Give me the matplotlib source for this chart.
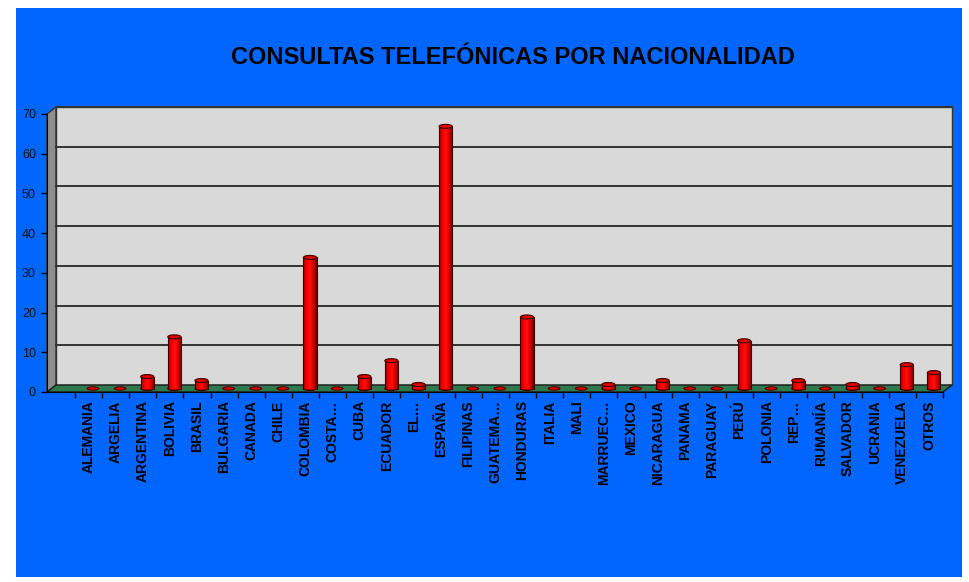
import numpy as np
import matplotlib
matplotlib.use("Agg")
import matplotlib.pyplot as plt
from matplotlib.patches import Polygon, Rectangle, Ellipse
from matplotlib.colors import LinearSegmentedColormap

plt.rcParams['font.family'] = ['Liberation Sans', 'DejaVu Sans']

paises = ['ALEMANIA', 'ARGELIA', 'ARGENTINA', 'BOLIVIA', 'BRASIL', 'BULGARIA',
          'CANADA', 'CHILE', 'COLOMBIA', 'COSTA…', 'CUBA', 'ECUADOR', 'EL…',
          'ESPAÑA', 'FILIPINAS', 'GUATEMA…', 'HONDURAS', 'ITALIA', 'MALI',
          'MARRUEC…', 'MEXICO', 'NICARAGUA', 'PANAMA', 'PARAGUAY', 'PERÚ',
          'POLONIA', 'REP…', 'RUMANÍA', 'SALVADOR', 'UCRANIA', 'VENEZUELA', 'OTROS']
consultas = [0, 0, 3, 13, 2, 0, 0, 0, 33, 0, 3, 7, 1, 66, 0, 0, 18, 0, 0, 1,
             0, 2, 0, 0, 12, 0, 2, 0, 1, 0, 6, 4]
yticks = [0, 10, 20, 30, 40, 50, 60, 70]

W, H = 969, 582
fig = plt.figure(figsize=(W / 100, H / 100), dpi=100, facecolor='white')
fig.patches.append(Rectangle((16 / W, 5 / H), 946 / W, 569 / H,
                             transform=fig.transFigure, facecolor='#0066FF',
                             edgecolor='none', zorder=-5))

x0, x1 = -1.53, 31.5
ax = fig.add_axes([47 / W, 190 / H, 896 / W, 278 / H])
ax.set_zorder(1)
ax.set_facecolor('none')
ax.set_xlim(x0, x1)
ax.set_ylim(0, 70)

# depth offset of the back wall (data units)
dx, dy = 0.33, 1.76

# walls and floor
ax.add_patch(Polygon([(x0 + dx, dy), (x1 + dx, dy), (x1 + dx, 70 + dy), (x0 + dx, 70 + dy)],
                     facecolor='#D9D9D9', edgecolor='#333333', lw=1, clip_on=False, zorder=1))
ax.add_patch(Polygon([(x0, 0), (x0 + dx, dy), (x0 + dx, 70 + dy), (x0, 70)],
                     facecolor='#8E8E8E', edgecolor='#333333', lw=1, clip_on=False, zorder=1))
for t in yticks[1:]:
    ax.plot([x0 + dx, x1 + dx], [t + dy, t + dy], color='#333333', lw=1.4,
            clip_on=False, zorder=1.5)
ax.add_patch(Polygon([(x0, 0), (x1, 0), (x1 + dx, dy), (x0 + dx, dy)],
                     facecolor='#2F7A4C', edgecolor='#1A1A1A', lw=1, clip_on=False, zorder=2))

# cylinders
cmap = LinearSegmentedColormap.from_list('cil', ['#7A0000', '#E00000', '#FF0000', '#FF1010',
                                                 '#E80000', '#B00000', '#5A0000'])
grad = np.linspace(0, 1, 64).reshape(1, -1)
w = 0.48
eh = 1.0
for i, v in enumerate(consultas):
    xc = i + dx / 2
    base = dy / 2
    if v > 0:
        ax.add_patch(Ellipse((xc, base), w, eh, facecolor='#B00000', edgecolor='#400000',
                             lw=0.8, zorder=3, clip_on=False))
        ax.imshow(grad, cmap=cmap, aspect='auto', extent=[xc - w / 2, xc + w / 2, base, base + v],
                  zorder=3.1, interpolation='bilinear', clip_on=False)
        ax.plot([xc - w / 2, xc - w / 2], [base, base + v], color='#400000', lw=0.8, zorder=3.2)
        ax.plot([xc + w / 2, xc + w / 2], [base, base + v], color='#400000', lw=0.8, zorder=3.2)
        ax.add_patch(Ellipse((xc, base + v), w, eh, facecolor='#E00000', edgecolor='#500000',
                             lw=0.9, zorder=3.3, clip_on=False))
    else:
        ax.add_patch(Ellipse((xc, base), w * 0.9, eh * 0.8, facecolor='#E00000',
                             edgecolor='#500000', lw=0.8, zorder=3.3, clip_on=False))

ax.set_xlim(x0, x1)
ax.set_ylim(0, 70)

# axes
for s in ['top', 'right']:
    ax.spines[s].set_visible(False)
ax.spines['left'].set_color('black')
ax.spines['bottom'].set_color('black')
ax.spines['left'].set_zorder(4)
ax.spines['bottom'].set_zorder(4)

ax.set_yticks(yticks)
ax.set_yticklabels([str(t) for t in yticks], fontsize=9, color='#111111')
ax.tick_params(axis='y', direction='out', length=4, width=1, pad=4)

ax.set_xticks(range(len(paises)))
ax.set_xticklabels(paises, rotation=90, fontsize=10, fontweight='bold', va='top', ha='center')
ax.set_xticks(np.arange(-0.5, len(paises), 1), minor=True)
ax.tick_params(axis='x', which='major', length=0, pad=6)
ax.tick_params(axis='x', which='minor', direction='out', length=4, width=1)

fig.text(513 / W, 1 - 58 / H, 'CONSULTAS TELEFÓNICAS POR NACIONALIDAD', ha='center', va='center',
         fontsize=17, fontweight='bold', color='black')

fig.savefig('out.png', dpi=100, facecolor='white')
